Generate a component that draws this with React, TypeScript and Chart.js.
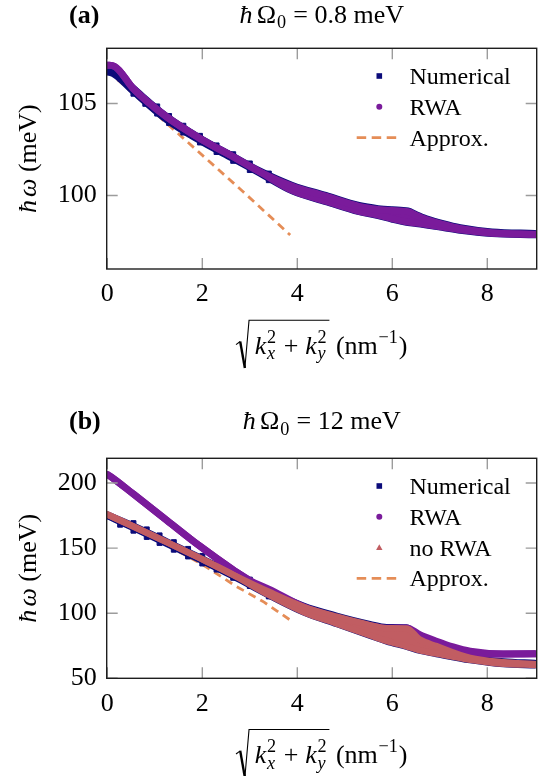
import React, { useEffect, useRef } from "react";
import { Chart, registerables } from "chart.js";

Chart.register(...registerables);

const FONT = '"Liberation Serif", "Times New Roman", "DejaVu Serif", serif';

// ---------------- tick values ----------------
const xTickValues = [0, 2, 4, 6, 8];
const yTickValuesA = [100, 105];
const yTickValuesB = [50, 100, 150, 200];

// ---------------- panel (a): ħΩ0 = 0.8 meV ----------------
// Numerical: envelope of the dense cloud
const numKA = [0, 0.15, 0.55, 1.25, 1.95, 2.65, 3.2, 3.9, 4.6, 5.3, 5.7, 6.0, 6.33, 6.5, 6.72, 7.07, 7.43, 8.1, 9.0];
const numUpperA = [106.8, 106.75, 105.85, 104.32, 103.15, 102.15, 101.37, 100.57, 100.03, 99.48, 99.31, 99.25, 99.19, 98.99, 98.76, 98.49, 98.27, 98.04, 97.96];
const numLowerA = [106.7, 106.55, 105.62, 104.08, 102.95, 101.97, 101.2, 100.21, 99.64, 99.09, 98.88, 98.68, 98.5, 98.45, 98.37, 98.23, 98.08, 97.9, 97.83];
// Numerical: isolated squares of the coarse k-grid (lower and upper staircase)
const numSqLowKA = [0, 0.28, 0.55, 0.8, 1.05, 1.3, 1.6, 1.95, 2.3, 2.65, 3.0, 3.4];
const numSqLowA = [106.7, 106.33, 105.53, 104.98, 104.45, 103.94, 103.42, 102.88, 102.36, 101.88, 101.38, 100.83];
const numSqHighKA = [1.05, 1.3, 1.6, 1.95, 2.3, 2.65, 3.0, 3.4];
const numSqHighA = [104.84, 104.32, 103.79, 103.24, 102.72, 102.24, 101.74, 101.19];
// RWA (upper / lower envelope)
const rwaKA = [0, 0.15, 0.55, 1.25, 1.95, 2.65, 3.2, 3.9, 4.6, 5.3, 5.7, 6.0, 6.33, 6.5, 6.72, 7.07, 7.43, 8.1, 9.0];
const rwaUpperA = [107.08, 107.02, 105.8, 104.27, 103.1, 102.1, 101.3, 100.5, 99.96, 99.41, 99.24, 99.18, 99.12, 98.92, 98.69, 98.42, 98.2, 97.97, 97.89];
const rwaLowerA = [107.08, 107.02, 105.8, 104.27, 103.1, 102.1, 101.3, 100.26, 99.69, 99.14, 98.93, 98.73, 98.55, 98.5, 98.42, 98.28, 98.13, 97.95, 97.88];
// Approx.
const approxKA = [0, 1.28, 2.86, 3.85];
const approxA = [106.8, 103.85, 100.2, 97.85];

// ---------------- panel (b): ħΩ0 = 12 meV ----------------
const numKB = [0, 0.55, 1.25, 1.95, 2.65, 3.4, 4.13, 4.83, 5.53, 5.88, 6.3, 6.58, 6.93, 7.64, 8.34, 9.0];
const numUpperB = [176.0, 167.4, 155.4, 143.1, 130.3, 117.4, 105.9, 98.2, 91.8, 89.4, 89.2, 80.6, 75.6, 66.5, 63.2, 61.9];
const numLowerB = [174.6, 165.2, 153.2, 140.9, 128.1, 113.5, 100.5, 91.5, 82.6, 78.2, 74.1, 71.0, 68.5, 63.8, 60.7, 59.8];
const numSqLowKB = [0, 0.27, 0.55, 0.83, 1.1, 1.4, 1.7, 2.0, 2.3, 2.65, 3.0, 3.4];
const numSqLowB = [174.3, 168.0, 163.4, 158.6, 154.0, 148.8, 143.6, 138.2, 133.5, 127.2, 120.9, 112.9];
const numSqHighKB = [0.55, 0.83, 1.1, 1.4, 1.7, 2.0, 2.3, 2.65, 3.0, 3.4];
const numSqHighB = [169.2, 164.4, 159.8, 154.6, 149.4, 144.0, 138.4, 132.1, 125.8, 117.8];
const rwaKB = [0, 0.1, 0.55, 1.25, 1.95, 2.65, 3.0, 3.4, 4.13, 4.83, 5.53, 5.88, 6.3, 6.58, 6.93, 7.28, 7.64, 8.34, 9.0];
const rwaUpperB = [206.5, 204.2, 191.5, 171.5, 151.5, 133.3, 125.0, 118.5, 105, 96.5, 90.5, 88.5, 88.7, 83.5, 78.5, 74.1, 70.8, 68.7, 68.9];
const rwaLowerB = [206.5, 204.2, 191.5, 171.5, 151.5, 133.3, 125.0, 115, 103, 94.5, 87, 84, 80, 75.5, 72, 70.3, 69.0, 68.6, 68.8];
const noRwaKB = [0, 0.55, 1.25, 1.95, 2.65, 3.4, 4.13, 4.83, 5.53, 5.88, 6.3, 6.58, 6.93, 7.64, 8.34, 9.0];
const noRwaUpperB = [175.8, 166.6, 154.6, 142.3, 129.5, 116.5, 105, 97.3, 90.9, 88.5, 88.3, 79.7, 74.7, 65.6, 62.3, 61];
const noRwaLowerB = [175.8, 166.6, 154.6, 142.3, 129.5, 114, 101, 92, 83.1, 78.7, 74.6, 71.5, 69, 64.3, 61.2, 60.3];
const approxKB = [0, 1, 2, 2.72, 3.3, 3.92];
const approxB = [176, 157.5, 137.5, 120.5, 108.5, 93];

// ---------------- styling ----------------
const C_NUM = "#0b0b7a";
const C_RWA = "#7a1b9b";
const C_NORWA = "#c15d62";
const C_APPROX = "#e58d57";

const W = 556;
const H = 388;
const AREA_LEFT = 106.7;
const AREA_RIGHT = 536.7;
const FS = 26;

type Run = { t?: string; it?: boolean; b?: boolean; sub?: string; sup?: string; subIt?: boolean; gap?: number };

function fontStr(size: number, it?: boolean, b?: boolean) {
  return `${it ? "italic " : ""}${b ? "bold " : ""}${size}px ${FONT}`;
}
function runWidth(ctx: CanvasRenderingContext2D, r: Run, size: number) {
  if (r.gap) return r.gap * size;
  if (r.sub !== undefined || r.sup !== undefined) {
    const s = size * 0.7;
    let w1 = 0;
    let w2 = 0;
    if (r.sub) { ctx.font = fontStr(s, r.subIt); w1 = ctx.measureText(r.sub).width; }
    if (r.sup) { ctx.font = fontStr(s); w2 = ctx.measureText(r.sup).width; }
    return Math.max(w1, w2) + 0.06 * size;
  }
  ctx.font = fontStr(size, r.it, r.b);
  return ctx.measureText(r.t || "").width;
}
function measureRuns(ctx: CanvasRenderingContext2D, runs: Run[], size: number) {
  return runs.reduce((w, r) => w + runWidth(ctx, r, size), 0);
}
function drawRuns(ctx: CanvasRenderingContext2D, runs: Run[], x: number, y: number, size: number) {
  ctx.textAlign = "left";
  ctx.textBaseline = "alphabetic";
  ctx.fillStyle = "#000";
  let cx = x;
  for (const r of runs) {
    const w = runWidth(ctx, r, size);
    if (r.gap) { cx += w; continue; }
    if (r.sub !== undefined || r.sup !== undefined) {
      const s = size * 0.7;
      if (r.sub) { ctx.font = fontStr(s, r.subIt); ctx.fillText(r.sub, cx + 0.03 * size, y + 0.2 * size); }
      if (r.sup) { ctx.font = fontStr(s); ctx.fillText(r.sup, cx + 0.03 * size, y - 0.42 * size); }
      cx += w;
      continue;
    }
    ctx.font = fontStr(size, r.it, r.b);
    ctx.fillText(r.t || "", cx, y);
    cx += w;
  }
  return cx;
}

type LegendItem = { kind: "rect" | "circle" | "tri" | "dash"; color: string; label: string };

type PanelSpec = {
  tag: string;
  titleValue: string;
  titleBaseline: number;
  top: number;
  bottom: number;
  yMin: number;
  yMax: number;
  yTicks: number[];
  legend: LegendItem[];
  datasets: any[];
};

function pts(xs: number[], ys: number[]) {
  return xs.map((x, i) => ({ x, y: ys[i] }));
}

function band(label: string, xs: number[], up: number[], lo: number[], color: string, width: number, order: number) {
  const common = {
    borderColor: color,
    backgroundColor: color,
    borderWidth: width,
    pointRadius: 0,
    order,
    cubicInterpolationMode: "monotone",
    borderCapStyle: "round",
    borderJoinStyle: "round",
  };
  return [
    { ...common, label, data: pts(xs, up), fill: false },
    { ...common, label: label + " (lower)", data: pts(xs, lo), fill: "-1" },
  ];
}

function squares(label: string, xs: number[], ys: number[], color: string, order: number) {
  return {
    label,
    data: pts(xs, ys),
    showLine: false,
    pointStyle: "rect",
    pointRadius: 3.5,
    pointBorderWidth: 1,
    pointBackgroundColor: color,
    pointBorderColor: color,
    borderColor: color,
    backgroundColor: color,
    fill: false,
    order,
  };
}

function approxLine(xs: number[], ys: number[]) {
  return {
    label: "Approx.",
    data: pts(xs, ys),
    borderColor: C_APPROX,
    backgroundColor: C_APPROX,
    borderWidth: 2.8,
    borderDash: [8, 5.5],
    pointRadius: 0,
    fill: false,
    order: 10,
  };
}

function decorPlugin(spec: PanelSpec) {
  return {
    id: "decor",
    afterDraw(chart: any) {
      const ctx: CanvasRenderingContext2D = chart.ctx;
      const a = chart.chartArea;
      const xs = chart.scales.x;
      const ys = chart.scales.y;
      ctx.save();
      // inward tick marks on all four sides
      ctx.strokeStyle = "#9c9c9c";
      ctx.lineWidth = 1.4;
      ctx.beginPath();
      for (const v of xTickValues) {
        const p = xs.getPixelForValue(v);
        ctx.moveTo(p, a.bottom); ctx.lineTo(p, a.bottom - 11);
        ctx.moveTo(p, a.top); ctx.lineTo(p, a.top + 11);
      }
      for (const v of spec.yTicks) {
        const p = ys.getPixelForValue(v);
        ctx.moveTo(a.left, p); ctx.lineTo(a.left + 11, p);
        ctx.moveTo(a.right, p); ctx.lineTo(a.right - 11, p);
      }
      ctx.stroke();
      // frame
      ctx.strokeStyle = "#1e1e1e";
      ctx.lineWidth = 1.4;
      ctx.strokeRect(a.left, a.top, a.right - a.left, a.bottom - a.top);

      // panel tag and title
      ctx.fillStyle = "#000";
      drawRuns(ctx, [{ t: spec.tag, b: true }], 69, spec.titleBaseline, FS);
      const titleRuns: Run[] = [
        { t: "ħ", it: true }, { gap: 0.17 }, { t: "Ω" }, { sub: "0" }, { t: " = " + spec.titleValue + " meV" },
      ];
      const tw = measureRuns(ctx, titleRuns, FS);
      const cx = (a.left + a.right) / 2;
      drawRuns(ctx, titleRuns, cx - tw / 2, spec.titleBaseline, FS);

      // y-axis title (rotated)
      const yRuns: Run[] = [{ t: "ħ", it: true }, { gap: 0.12 }, { t: "ω", it: true }, { t: " (meV)" }];
      const yw = measureRuns(ctx, yRuns, FS);
      ctx.save();
      ctx.translate(36, (a.top + a.bottom) / 2);
      ctx.rotate(-Math.PI / 2);
      drawRuns(ctx, yRuns, -yw / 2, 0, FS);
      ctx.restore();

      // x-axis title with radical
      const inner: Run[] = [
        { t: "k", it: true }, { sub: "x", subIt: true, sup: "2" }, { gap: 0.26 }, { t: "+" }, { gap: 0.26 },
        { t: "k", it: true }, { sub: "y", subIt: true, sup: "2" },
      ];
      const after: Run[] = [{ t: " (nm" }, { sup: "−1" }, { t: ")" }];
      const wi = measureRuns(ctx, inner, FS);
      const wa = measureRuns(ctx, after, FS);
      const radW = 0.5 * FS;
      const padL = 0.22 * FS;
      const padR = 0.08 * FS;
      const total = radW + padL + wi + padR + wa;
      const x0 = cx - total / 2;
      const base = a.bottom + 85;
      const topY = base - 1.3 * FS;
      ctx.strokeStyle = "#000";
      ctx.lineCap = "butt";
      ctx.beginPath();
      ctx.lineWidth = 1.1;
      ctx.moveTo(x0, base - 0.36 * FS);
      ctx.lineTo(x0 + 0.16 * FS, base - 0.48 * FS);
      ctx.stroke();
      ctx.beginPath();
      ctx.lineWidth = 2.4;
      ctx.moveTo(x0 + 0.16 * FS, base - 0.48 * FS);
      ctx.lineTo(x0 + 0.34 * FS, base + 0.54 * FS);
      ctx.stroke();
      ctx.beginPath();
      ctx.lineWidth = 1.1;
      ctx.moveTo(x0 + 0.34 * FS, base + 0.54 * FS);
      ctx.lineTo(x0 + radW, topY);
      ctx.lineTo(x0 + radW + padL + wi + padR, topY);
      ctx.stroke();
      drawRuns(ctx, inner, x0 + radW + padL, base, FS);
      drawRuns(ctx, after, x0 + radW + padL + wi + padR, base, FS);

      // legend
      const LFS = 24;
      spec.legend.forEach((item, i) => {
        const ry = a.top + 27.7 + i * 30.8;
        const mx = 379.3;
        ctx.fillStyle = item.color;
        ctx.strokeStyle = item.color;
        if (item.kind === "rect") {
          ctx.fillRect(mx - 2.8, ry - 2.8, 5.6, 5.6);
        } else if (item.kind === "circle") {
          ctx.beginPath(); ctx.arc(mx, ry, 3, 0, Math.PI * 2); ctx.fill();
        } else if (item.kind === "tri") {
          ctx.beginPath(); ctx.moveTo(mx, ry - 3.4); ctx.lineTo(mx + 3.2, ry + 2.4); ctx.lineTo(mx - 3.2, ry + 2.4); ctx.closePath(); ctx.fill();
        } else {
          ctx.lineWidth = 2.8;
          ctx.setLineDash([9.5, 5.5]);
          ctx.beginPath(); ctx.moveTo(356.7, ry); ctx.lineTo(396.7, ry); ctx.stroke();
          ctx.setLineDash([]);
        }
        drawRuns(ctx, [{ t: item.label }], 409.5, ry + 8, LFS);
      });
      ctx.restore();
    },
  };
}

function makeConfig(spec: PanelSpec): any {
  const tickFont = { family: FONT, size: FS };
  return {
    type: "line",
    data: { datasets: spec.datasets },
    options: {
      responsive: false,
      animation: false,
      devicePixelRatio: 1,
      events: [],
      layout: { padding: { left: 0, right: W - AREA_RIGHT, top: spec.top, bottom: 0 } },
      plugins: { legend: { display: false }, tooltip: { enabled: false }, title: { display: false } },
      scales: {
        x: {
          type: "linear",
          min: -0.013,
          max: 9.04,
          grid: { display: false, drawTicks: false },
          border: { display: false },
          ticks: { font: tickFont, color: "#000", padding: 10, autoSkip: false, maxRotation: 0 },
          afterBuildTicks: (s: any) => { s.ticks = xTickValues.map((v) => ({ value: v })); },
          afterFit: (s: any) => { s.height = H - spec.bottom; },
        },
        y: {
          type: "linear",
          min: spec.yMin,
          max: spec.yMax,
          grid: { display: false, drawTicks: false },
          border: { display: false },
          ticks: { font: tickFont, color: "#000", padding: 10, autoSkip: false },
          afterBuildTicks: (s: any) => { s.ticks = spec.yTicks.map((v) => ({ value: v })); },
          afterFit: (s: any) => { s.width = AREA_LEFT; },
        },
      },
    },
    plugins: [decorPlugin(spec)],
  };
}

const specA: PanelSpec = {
  tag: "(a)",
  titleValue: "0.8",
  titleBaseline: 23,
  top: 48.3,
  bottom: 269,
  yMin: 96,
  yMax: 108,
  yTicks: yTickValuesA,
  legend: [
    { kind: "rect", color: C_NUM, label: "Numerical" },
    { kind: "circle", color: C_RWA, label: "RWA" },
    { kind: "dash", color: C_APPROX, label: "Approx." },
  ],
  datasets: [
    ...band("Numerical", numKA, numUpperA, numLowerA, C_NUM, 6, 8),
    squares("Numerical (grid, low)", numSqLowKA, numSqLowA, C_NUM, 8),
    squares("Numerical (grid, high)", numSqHighKA, numSqHighA, C_NUM, 8),
    ...band("RWA", rwaKA, rwaUpperA, rwaLowerA, C_RWA, 7, 6),
    approxLine(approxKA, approxA),
  ],
};

const specB: PanelSpec = {
  tag: "(b)",
  titleValue: "12",
  titleBaseline: 41.3,
  top: 70.3,
  bottom: 290.3,
  yMin: 50,
  yMax: 219,
  yTicks: yTickValuesB,
  legend: [
    { kind: "rect", color: C_NUM, label: "Numerical" },
    { kind: "circle", color: C_RWA, label: "RWA" },
    { kind: "tri", color: C_NORWA, label: "no RWA" },
    { kind: "dash", color: C_APPROX, label: "Approx." },
  ],
  datasets: [
    ...band("Numerical", numKB, numUpperB, numLowerB, C_NUM, 6, 8),
    squares("Numerical (grid, low)", numSqLowKB, numSqLowB, C_NUM, 8),
    squares("Numerical (grid, high)", numSqHighKB, numSqHighB, C_NUM, 8),
    ...band("RWA", rwaKB, rwaUpperB, rwaLowerB, C_RWA, 7, 6),
    ...band("no RWA", noRwaKB, noRwaUpperB, noRwaLowerB, C_NORWA, 6.5, 4),
    approxLine(approxKB, approxB),
  ],
};

function Panel({ spec, offset }: { spec: PanelSpec; offset: number }) {
  const ref = useRef<HTMLCanvasElement>(null);
  useEffect(() => {
    const chart = new Chart(ref.current as HTMLCanvasElement, makeConfig(spec));
    return () => chart.destroy();
  }, [spec]);
  return (
    <canvas
      ref={ref}
      width={W}
      height={H}
      style={{ position: "absolute", left: 0, top: offset, width: W, height: H, display: "block" }}
    />
  );
}

export default function App() {
  return (
    <div style={{ position: "absolute", left: 0, top: 0, width: W, height: 2 * H, background: "#fff" }}>
      <Panel spec={specA} offset={0} />
      <Panel spec={specB} offset={H} />
    </div>
  );
}
